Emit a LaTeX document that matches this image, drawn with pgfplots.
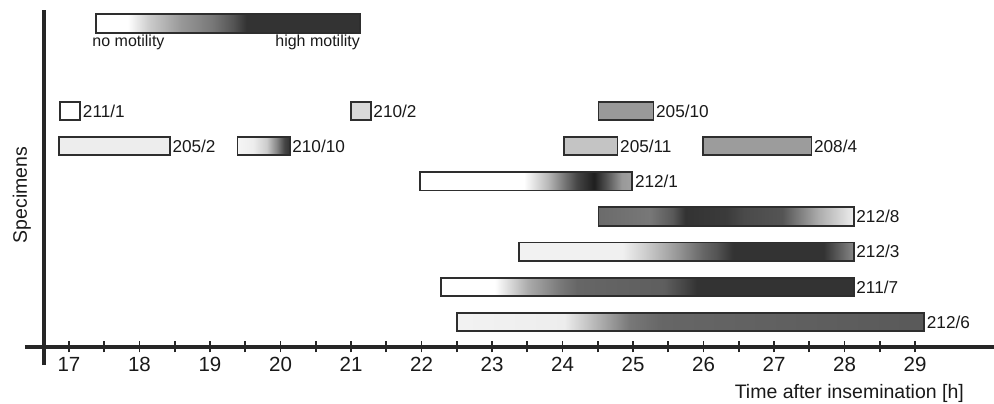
\documentclass[border=0pt]{standalone}
\usepackage{fontspec}
\setmainfont{Liberation Sans}
\usepackage{pgfplots}
\pgfplotsset{compat=1.18}

% shadings: path bbox maps to 25bp..75bp
\pgfdeclarehorizontalshading{legshade}{100bp}{color(0bp)=(white); color(25bp)=(white); color(31bp)=(white); color(35bp)=(black!20); color(41bp)=(black!40); color(47bp)=(black!53); color(51bp)=(black!67); color(53.5bp)=(black!80); color(75bp)=(black!80); color(100bp)=(black!80)}
\pgfdeclarehorizontalshading{shA}{100bp}{color(0bp)=(black!4); color(25bp)=(black!4); color(40bp)=(black!7); color(53bp)=(black!20); color(62.5bp)=(black!47); color(70bp)=(black!73); color(75bp)=(black!80); color(100bp)=(black!80)}
\pgfdeclarehorizontalshading{shB}{100bp}{color(0bp)=(white); color(25bp)=(white); color(49.5bp)=(white); color(55bp)=(black!27); color(58bp)=(black!47); color(62bp)=(black!73); color(66bp)=(black!88); color(69bp)=(black!67); color(72.5bp)=(black!40); color(75bp)=(black!37); color(100bp)=(black!37)}
\pgfdeclarehorizontalshading{shC}{100bp}{color(0bp)=(black!58); color(25bp)=(black!58); color(35bp)=(black!53); color(39.5bp)=(black!65); color(42bp)=(black!80); color(50bp)=(black!77); color(53.5bp)=(black!71); color(61bp)=(black!67); color(68bp)=(black!33); color(75bp)=(black!7); color(100bp)=(black!7)}
\pgfdeclarehorizontalshading{shD}{100bp}{color(0bp)=(black!5); color(25bp)=(black!5); color(40.5bp)=(black!6); color(44bp)=(black!20); color(48.5bp)=(black!40); color(52.5bp)=(black!60); color(54.5bp)=(black!67); color(57bp)=(black!80); color(70.5bp)=(black!80); color(75bp)=(black!47); color(100bp)=(black!47)}
\pgfdeclarehorizontalshading{shE}{100bp}{color(0bp)=(white); color(25bp)=(white); color(31.5bp)=(white); color(35.5bp)=(black!33); color(39.5bp)=(black!53); color(41.5bp)=(black!60); color(52bp)=(black!63); color(54.5bp)=(black!73); color(56bp)=(black!80); color(75bp)=(black!80); color(100bp)=(black!80)}
\pgfdeclarehorizontalshading{shF}{100bp}{color(0bp)=(black!5); color(25bp)=(black!5); color(36.5bp)=(black!7); color(40.5bp)=(black!33); color(43.5bp)=(black!53); color(47bp)=(black!60); color(75bp)=(black!65); color(100bp)=(black!65)}

\tikzset{
  bx/.style={draw=black!82, line width=1.8pt, line join=miter},
  lbl/.style={anchor=base west, xshift=2.5pt, yshift=-6.2pt, inner sep=0pt, font=\fontsize{17.2}{18}\selectfont, text=black!90},
}

\begin{document}
\begin{tikzpicture}
\path[use as bounding box] (-25pt,-57pt) rectangle (969pt,347pt);
\begin{axis}[
  scale only axis, width=969pt, height=347pt,
  xmin=16.376, xmax=30.12, ymin=0.289, ymax=10.155,
  axis x line*=bottom, axis y line=none,
  x axis line style={line width=3.5pt, black!85},
  xtick={17,...,29}, minor xtick={17.5,18.5,...,28.5},
  xtick align=center,
  major tick length=11pt, minor tick length=11pt,
  tick style={line width=1.6pt, black!85},
  ytick=\empty,
  clip=false,
  /pgf/number format/assume math mode=true,
  xticklabel style={font=\fontsize{20.5}{21}\selectfont, text=black!90, yshift=-1.5pt},
]
% row 7
\addplot[bx, fill=white] coordinates {(16.87,6.74) (17.16,6.74) (17.16,7.26) (16.87,7.26)} -- cycle;
\addplot[bx, fill=black!15] coordinates {(21.0,6.74) (21.28,6.74) (21.28,7.26) (21.0,7.26)} -- cycle;
\addplot[bx, fill=black!40] coordinates {(24.51,6.74) (25.29,6.74) (25.29,7.26) (24.51,7.26)} -- cycle;
% row 6
\addplot[bx, fill=black!7] coordinates {(16.86,5.74) (18.43,5.74) (18.43,6.26) (16.86,6.26)} -- cycle;
\addplot[bx, shading=shA] coordinates {(19.39,5.74) (20.13,5.74) (20.13,6.26) (19.39,6.26)} -- cycle;
\addplot[bx, fill=black!23] coordinates {(24.02,5.74) (24.78,5.74) (24.78,6.26) (24.02,6.26)} -- cycle;
\addplot[bx, fill=black!39] coordinates {(25.99,5.74) (27.53,5.74) (27.53,6.26) (25.99,6.26)} -- cycle;
% row 5
\addplot[bx, shading=shB] coordinates {(21.98,4.74) (24.99,4.74) (24.99,5.26) (21.98,5.26)} -- cycle;
% row 4
\addplot[bx, shading=shC] coordinates {(24.51,3.74) (28.13,3.74) (28.13,4.26) (24.51,4.26)} -- cycle;
% row 3
\addplot[bx, shading=shD] coordinates {(23.38,2.74) (28.13,2.74) (28.13,3.26) (23.38,3.26)} -- cycle;
% row 2
\addplot[bx, shading=shE] coordinates {(22.28,1.74) (28.13,1.74) (28.13,2.26) (22.28,2.26)} -- cycle;
% row 1
\addplot[bx, shading=shF] coordinates {(22.50,0.74) (29.13,0.74) (29.13,1.26) (22.50,1.26)} -- cycle;

\node[lbl] at (axis cs:17.16,7) {211/1};
\node[lbl] at (axis cs:21.28,7) {210/2};
\node[lbl] at (axis cs:25.29,7) {205/10};
\node[lbl] at (axis cs:18.43,6) {205/2};
\node[lbl] at (axis cs:20.13,6) {210/10};
\node[lbl] at (axis cs:24.78,6) {205/11};
\node[lbl] at (axis cs:27.53,6) {208/4};
\node[lbl] at (axis cs:24.99,5) {212/1};
\node[lbl] at (axis cs:28.13,4) {212/8};
\node[lbl] at (axis cs:28.13,3) {212/3};
\node[lbl] at (axis cs:28.13,2) {211/7};
\node[lbl] at (axis cs:29.13,1) {212/6};

% y axis line
\draw[line width=3.5pt, black!85] (axis cs:16.645,-0.223) -- (axis cs:16.645,9.871);
% motility scale
\draw[shading=legshade, draw=black!82, line width=1.8pt] (axis cs:17.383,9.217) rectangle (axis cs:21.128,9.757);
\node[anchor=base west, inner sep=0pt, font=\fontsize{16}{17}\selectfont, text=black!90] at (axis cs:17.33,8.819) {no motility};
\node[anchor=base east, inner sep=0pt, font=\fontsize{16}{17}\selectfont, text=black!90] at (axis cs:21.128,8.819) {high motility};
% axis labels
\node[rotate=90, anchor=base, inner sep=0pt, font=\fontsize{19.5}{20}\selectfont, text=black!90] at (axis cs:16.404,4.611) {Specimens};
\node[anchor=base east, inner sep=0pt, font=\fontsize{19.5}{20}\selectfont, text=black!90] at (axis cs:29.695,-1.189) {Time after insemination [h]};
\end{axis}
\end{tikzpicture}
\end{document}
